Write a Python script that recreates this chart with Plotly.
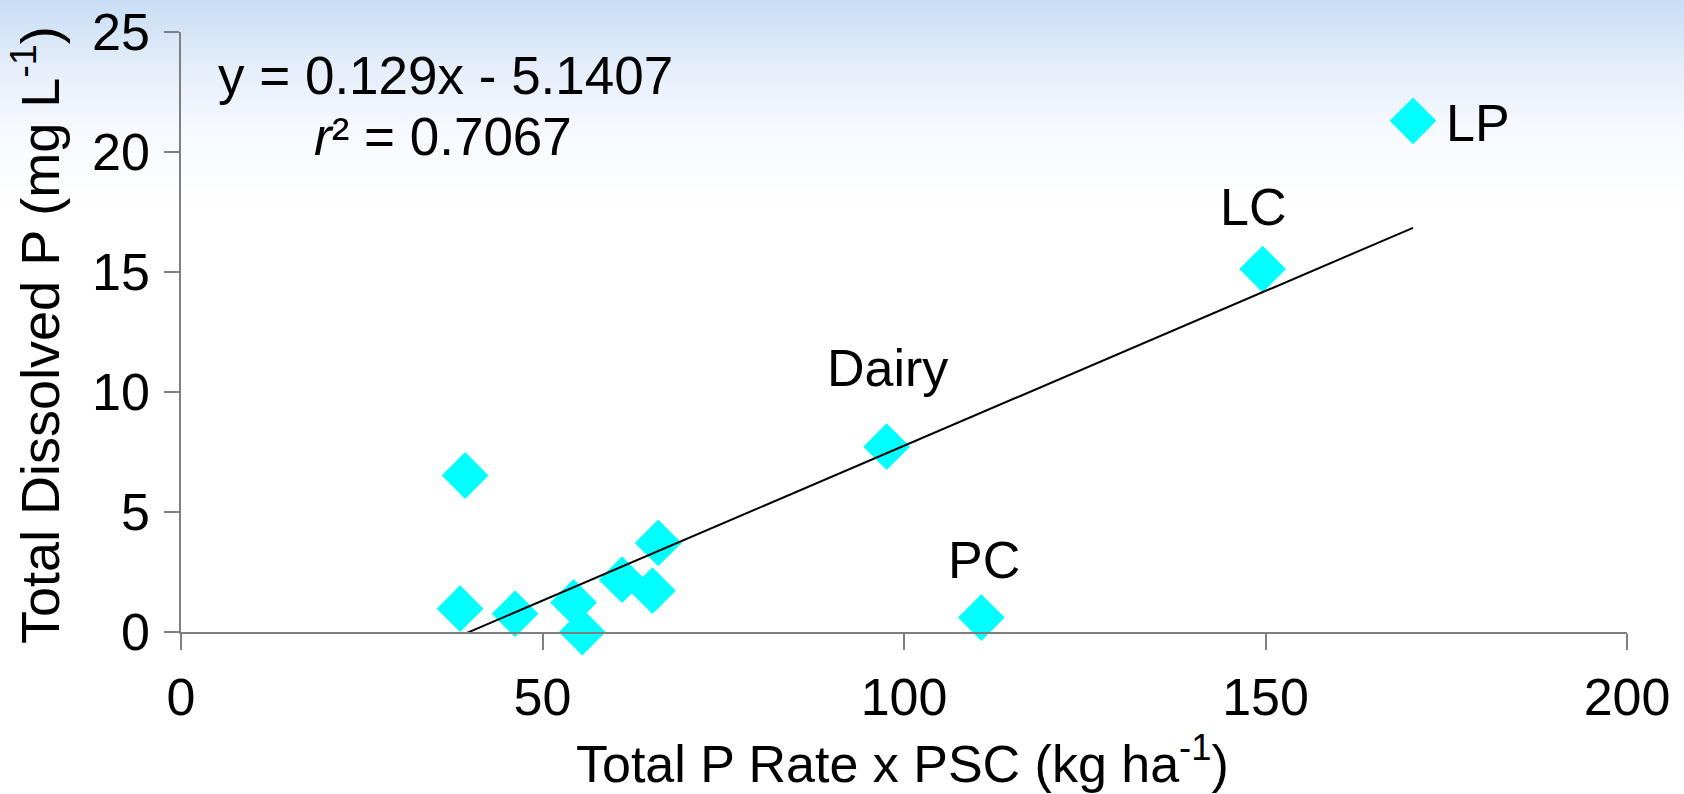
import plotly.graph_objects as go

# Total P rate x PSC (kg/ha) vs. total dissolved P (mg/L)
p_index = [38.6, 39.3, 46.2, 54.3, 55.5, 61.0, 65.2, 66.0, 97.6, 110.7, 149.6, 170.4]
tdp = [0.97, 6.52, 0.76, 1.23, 0.0, 2.18, 1.72, 3.71, 7.72, 0.6, 15.12, 21.3]
point_labels = ["", "", "", "", "", "", "", "", "Dairy", "PC", "LC", "LP"]

# Linear fit reported on the chart
slope = 0.129
intercept = -5.1407
r_squared = 0.7067

x_ticks = [0, 50, 100, 150, 200]
y_ticks = [0, 5, 10, 15, 20, 25]

FONT = "Arial, Liberation Sans, sans-serif"
AXIS_GRAY = "#7f7f7f"
W, H = 1684, 794
L, R, T, B = 181, 57, 32, 162
plot_w, plot_h = W - L - R, H - T - B

# label placement (pixel offsets from each labelled marker)
label_offsets = {
    "Dairy": dict(xshift=1, yshift=79, xanchor="center"),
    "PC": dict(xshift=3, yshift=58, xanchor="center"),
    "LC": dict(xshift=-10, yshift=62, xanchor="center"),
    "LP": dict(xshift=31, yshift=-2, xanchor="left"),
}

fig = go.Figure()

fig.add_trace(go.Scatter(
    x=p_index, y=tdp, mode="markers",
    marker=dict(symbol="diamond", size=36, color="#00FFFF", line=dict(width=0)),
    cliponaxis=False, showlegend=False, hoverinfo="x+y",
))

fit_x = [min(p_index), max(p_index)]
fit_y = [slope * v + intercept for v in fit_x]
fig.add_trace(go.Scatter(
    x=fit_x, y=fit_y, mode="lines",
    line=dict(color="black", width=2), showlegend=False, hoverinfo="skip",
))

annotations = []
for xv, yv, lab in zip(p_index, tdp, point_labels):
    if not lab:
        continue
    off = label_offsets[lab]
    annotations.append(dict(
        x=xv, y=yv, xref="x", yref="y", text=lab, showarrow=False,
        yanchor="middle", font=dict(family=FONT, size=52, color="black"), **off,
    ))


def px_to_paper_x(px):
    return (px - L) / plot_w


def px_to_paper_y(py):
    return (H - B - py) / plot_h


annotations += [
    dict(text=f"y = {slope}x - {abs(intercept)}", x=px_to_paper_x(445), y=px_to_paper_y(75),
         xref="paper", yref="paper", showarrow=False, xanchor="center", yanchor="middle",
         font=dict(family=FONT, size=53, color="black")),
    dict(text=f"<i>r</i>² = {r_squared}", x=px_to_paper_x(443), y=px_to_paper_y(136),
         xref="paper", yref="paper", showarrow=False, xanchor="center", yanchor="middle",
         font=dict(family=FONT, size=53, color="black")),
    dict(text="Total P Rate x PSC (kg ha<sup>-1</sup>)", x=px_to_paper_x(902), y=px_to_paper_y(760),
         xref="paper", yref="paper", showarrow=False, xanchor="center", yanchor="middle",
         font=dict(family=FONT, size=52, color="black")),
    dict(text="Total Dissolved P (mg L<sup>-1</sup>)", x=px_to_paper_x(36), y=px_to_paper_y(335),
         xref="paper", yref="paper", showarrow=False, xanchor="center", yanchor="middle",
         textangle=-90, font=dict(family=FONT, size=54, color="black")),
]

# soft blue wash fading to white across the top of the page
stops = [(0, (200, 221, 244)), (60, (226, 236, 249)), (130, (246, 249, 254)), (210, (255, 255, 255))]
shapes = []
band = 4
for y0 in range(0, 210, band):
    yc = y0 + band / 2
    for (a, ca), (b, cb) in zip(stops[:-1], stops[1:]):
        if a <= yc <= b:
            t = (yc - a) / (b - a)
            c = tuple(round(ca[i] + (cb[i] - ca[i]) * t) for i in range(3))
            break
    shapes.append(dict(
        type="rect", xref="paper", yref="paper", layer="below",
        x0=px_to_paper_x(0), x1=px_to_paper_x(W),
        y0=px_to_paper_y(y0 + band + 0.5), y1=px_to_paper_y(y0),
        line=dict(width=0), fillcolor=f"rgb{c}",
    ))

fig.update_layout(
    width=W, height=H,
    margin=dict(l=L, r=R, t=T, b=B, pad=0, autoexpand=False),
    paper_bgcolor="white", plot_bgcolor="rgba(0,0,0,0)",
    font=dict(family=FONT, size=52, color="black"),
    annotations=annotations, shapes=shapes,
    xaxis=dict(
        range=[0, 200], tickvals=x_ticks, ticks="outside", ticklen=16, tickwidth=1.5,
        tickcolor=AXIS_GRAY, showline=True, linecolor=AXIS_GRAY, linewidth=1.5,
        showgrid=False, zeroline=False, ticklabelstandoff=3, automargin=False,
        tickfont=dict(family=FONT, size=52, color="black"),
    ),
    yaxis=dict(
        range=[0, 25], tickvals=y_ticks, ticks="outside", ticklen=15, tickwidth=1.5,
        tickcolor=AXIS_GRAY, showline=True, linecolor=AXIS_GRAY, linewidth=1.5,
        showgrid=False, zeroline=False, ticklabelstandoff=4, automargin=False,
        tickfont=dict(family=FONT, size=52, color="black"),
    ),
)

fig.write_html("out.html")
